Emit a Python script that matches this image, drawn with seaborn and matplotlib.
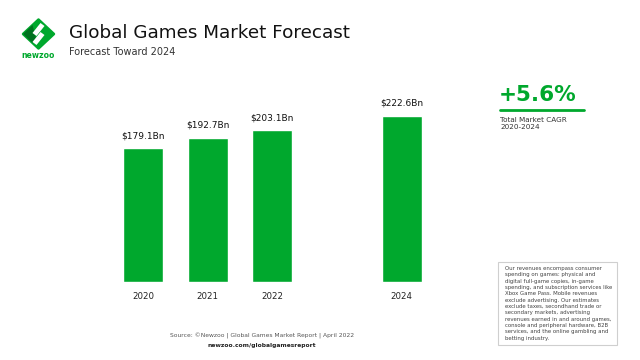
import matplotlib
matplotlib.use("Agg")
import matplotlib.pyplot as plt
from matplotlib.patches import Polygon, Rectangle
from matplotlib.lines import Line2D
import seaborn as sns
import pandas as pd

# data
years = [2020, 2021, 2022, 2024]
revenue_bn = [179.1, 192.7, 203.1, 222.6]
bar_labels = ["$179.1Bn", "$192.7Bn", "$203.1Bn", "$222.6Bn"]

title = "Global Games Market Forecast"
subtitle = "Forecast Toward 2024"
cagr_value = "+5.6%"
cagr_label = "Total Market CAGR\n2020-2024"
note_text = ("Our revenues encompass consumer\n"
             "spending on games: physical and\n"
             "digital full-game copies, in-game\n"
             "spending, and subscription services like\n"
             "Xbox Game Pass. Mobile revenues\n"
             "exclude advertising. Our estimates\n"
             "exclude taxes, secondhand trade or\n"
             "secondary markets, advertising\n"
             "revenues earned in and around games,\n"
             "console and peripheral hardware, B2B\n"
             "services, and the online gambling and\n"
             "betting industry.")
source_text = "Source: ©Newzoo | Global Games Market Report | April 2022"
url_text = "newzoo.com/globalgamesreport"

GREEN = "#00A82D"
DARK_GREEN = "#00731F"
W, H = 640, 360

sns.set_style("white")
plt.rcParams["font.family"] = ["DejaVu Sans"]

df = pd.DataFrame({"year": years, "revenue": revenue_bn})

fig = plt.figure(figsize=(6.4, 3.6), dpi=100)
fig.patch.set_facecolor("white")

# main axes, placed to match the reference pixel layout
ax = fig.add_axes([0.173, 0.2167, 0.505, 0.512])
sns.barplot(data=df, x="year", y="revenue", native_scale=True, width=0.62,
            color=GREEN, saturation=1, ax=ax)
ax.set_xlim(2019.5, 2024.5)
ax.set_ylim(0, 247)
ax.set_xticks(years)
ax.set_xticklabels([str(y) for y in years], fontsize=6.2, color="#222222")
ax.tick_params(axis="x", length=0, pad=7)
ax.set_yticks([])
ax.set_xlabel("")
ax.set_ylabel("")
for s in ax.spines.values():
    s.set_visible(False)
ax.bar_label(ax.containers[0], labels=bar_labels, padding=6, fontsize=6.5,
             color="#111111")


def px(x, y):
    # pixel coords (top-left origin) -> figure fraction
    return x / W, 1 - y / H


def add_poly(pts, **kw):
    fig.patches.append(Polygon([px(*p) for p in pts], closed=True,
                               transform=fig.transFigure, **kw))


# logo: diamond with dark left side and white S band
cx, cy, rx, ry = 38.5, 34, 15.5, 14.5
add_poly([(cx - rx, cy), (cx, cy - ry), (cx + rx, cy), (cx, cy + ry)],
         facecolor=GREEN, edgecolor=GREEN, linewidth=1.8, joinstyle="round")
add_poly([(cx - rx, cy), (cx - 6, cy - 9), (cx - 2, cy + 6), (cx - 6, cy + 9)],
         facecolor=DARK_GREEN, edgecolor="none")
add_poly([(cx - 6, cy - 1), (cx + 2, cy - 11), (cx + 6, cy - 8), (cx - 2, cy + 2)],
         facecolor="white", edgecolor="none")
add_poly([(cx - 6, cy + 8), (cx + 2, cy - 2), (cx + 6, cy + 1), (cx - 2, cy + 11)],
         facecolor="white", edgecolor="none")
fig.text(*px(38.5, 55), "newzoo", fontsize=5.6, fontweight="bold", color=GREEN,
         ha="center", va="center")

# header
fig.text(*px(69, 33), title, fontsize=13.2, color="#111111", ha="left", va="center")
fig.text(*px(69, 52), subtitle, fontsize=7.0, color="#333333", ha="left", va="center")

# CAGR callout
fig.text(*px(499, 95), cagr_value, fontsize=15.5, fontweight="bold", color=GREEN,
         ha="left", va="center")
fig.lines.append(Line2D([500 / W, 584 / W], [1 - 110 / H, 1 - 110 / H],
                        transform=fig.transFigure, color=GREEN, linewidth=2))
fig.text(*px(500, 117), cagr_label, fontsize=5.2, color="#333333", ha="left",
         va="top", linespacing=1.25)

# methodology note box
x0, y0 = px(498, 345)
x1, y1 = px(617, 262)
fig.patches.append(Rectangle((x0, y0), x1 - x0, y1 - y0, transform=fig.transFigure,
                             facecolor="white", edgecolor="#cfcfcf", linewidth=0.8))
fig.text(*px(505, 266), note_text, fontsize=3.9, color="#444444", ha="left",
         va="top", linespacing=1.33)

# footer
fig.text(*px(262, 336), source_text, fontsize=4.3, color="#555555", ha="center",
         va="center")
fig.text(*px(262, 345), url_text, fontsize=4.3, fontweight="bold", color="#222222",
         ha="center", va="center")

fig.savefig("out.png", dpi=100)
